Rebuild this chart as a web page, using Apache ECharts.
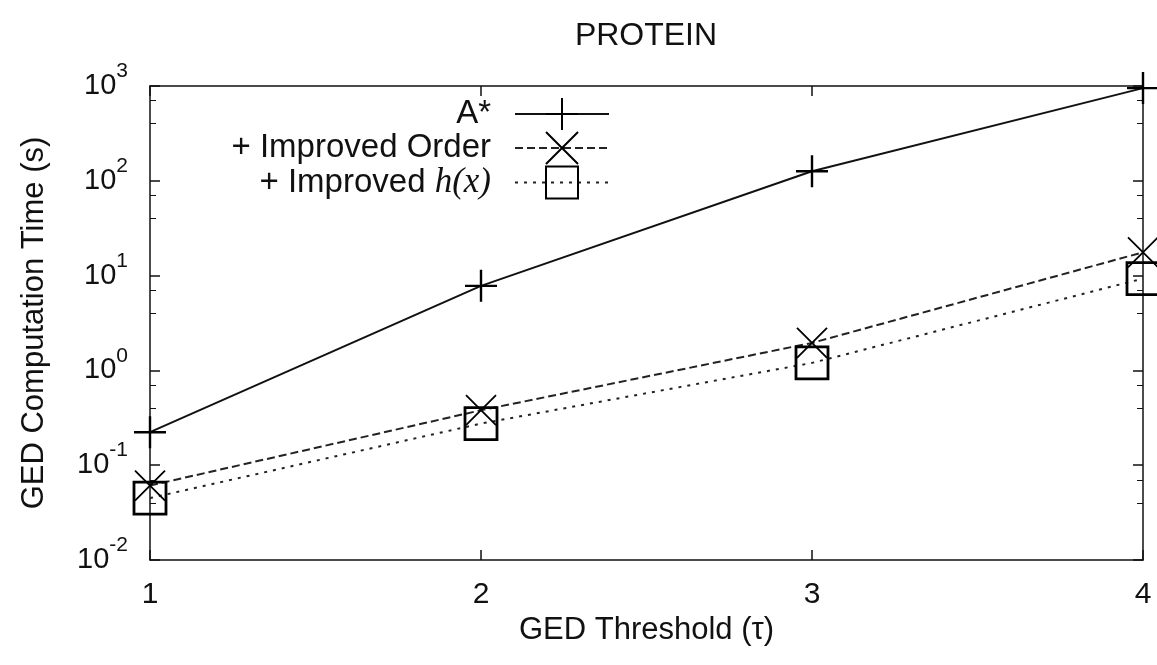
<!DOCTYPE html>
<html>
<head>
<meta charset="utf-8">
<script src="https://cdn.jsdelivr.net/npm/echarts@6/dist/echarts.min.js"></script>
<style>
html,body{margin:0;padding:0;background:#fff;}
#chart{width:1157px;height:665px;}
</style>
</head>
<body>
<div id="chart"></div>
<script>
const thresholds = [1, 2, 3, 4];
const astarTimes = [0.223, 7.8, 126, 950];
const improvedOrderTimes = [0.061, 0.38, 1.95, 17.6];
const improvedHxTimes = [0.045, 0.275, 1.2, 9.3];
const yTickExponents = [-2, -1, 0, 1, 2, 3];
const seriesNames = ['A*', '+ Improved Order', '+ Improved h(x)'];

const FONT = '"Liberation Sans", Arial, Helvetica, sans-serif';
const toPairs = (vals) => thresholds.map((t, i) => [t, vals[i]]);

const chart = echarts.init(document.getElementById('chart'), null, {renderer: 'canvas'});

const frameLine = {show: true, lineStyle: {color: '#111', width: 1.5}};
const plusPath = 'path://M-1,0L1,0M0,-1L0,1';
const crossPath = 'path://M-1,-1L1,1M-1,1L1,-1';

const option = {
  backgroundColor: '#fff',
  animation: false,
  title: {
    text: 'PROTEIN',
    left: 646,
    textAlign: 'center',
    top: 20,
    padding: 0,
    textStyle: {fontFamily: FONT, fontSize: 32, fontWeight: 'normal', color: '#111'}
  },
  grid: {left: 150, right: 14, top: 86, bottom: 105, containLabel: false},
  legend: {
    orient: 'vertical',
    align: 'right',
    right: 542,
    top: 92,
    itemWidth: 94,
    itemHeight: 40,
    itemGap: 0,
    selectedMode: false,
    data: seriesNames,
    textStyle: {fontFamily: FONT, fontSize: 33, color: '#111', padding: [0, 19, 0, 0],
      rich: {
        t: {fontFamily: FONT, fontSize: 33, color: '#111'},
        i: {fontFamily: '"Liberation Serif", "Times New Roman", serif', fontStyle: 'italic', fontSize: 35, color: '#111'}
      }
    },
    formatter: function (name) {
      if (name === '+ Improved h(x)') return '{t|+ Improved }{i|h(x)}';
      return name;
    }
  },
  xAxis: [
    {
      type: 'value', min: 1, max: 4, interval: 1, position: 'bottom',
      name: 'GED Threshold (\u03c4)', nameLocation: 'middle', nameGap: 50,
      nameTextStyle: {fontFamily: FONT, fontSize: 31, color: '#111'},
      axisLine: frameLine,
      axisTick: {show: true, inside: true, length: 10, lineStyle: {color: '#111', width: 1.5}},
      axisLabel: {fontFamily: FONT, fontSize: 30, color: '#111', margin: 20},
      splitLine: {show: false}
    },
    {
      type: 'value', min: 1, max: 4, interval: 1, position: 'top',
      axisLine: frameLine,
      axisTick: {show: true, inside: true, length: 10, lineStyle: {color: '#111', width: 1.5}},
      axisLabel: {show: false},
      splitLine: {show: false}
    }
  ],
  yAxis: [
    {
      type: 'log', logBase: 10, min: 0.01, max: 1000, position: 'left',
      name: 'GED Computation Time (s)', nameLocation: 'middle', nameGap: 100,
      nameTextStyle: {fontFamily: FONT, fontSize: 31, color: '#111'},
      axisLine: frameLine,
      axisTick: {show: true, inside: true, length: 10, lineStyle: {color: '#111', width: 1.5}},
      minorTick: {show: true, splitNumber: 3, length: 6, lineStyle: {color: '#111', width: 1}},
      axisLabel: {
        margin: 22,
        formatter: function (v) {
          const e = Math.round(Math.log10(v));
          return '{b|10}{s|' + e + '}';
        },
        rich: {
          b: {fontFamily: FONT, fontSize: 29, color: '#111', lineHeight: 50},
          s: {fontFamily: FONT, fontSize: 21, color: '#111', verticalAlign: 'top', lineHeight: 22}
        }
      },
      splitLine: {show: false},
      minorSplitLine: {show: false}
    },
    {
      type: 'log', logBase: 10, min: 0.01, max: 1000, position: 'right',
      axisLine: frameLine,
      axisTick: {show: true, inside: true, length: 10, lineStyle: {color: '#111', width: 1.5}},
      minorTick: {show: true, splitNumber: 3, length: 6, lineStyle: {color: '#111', width: 1}},
      axisLabel: {show: false},
      splitLine: {show: false}
    }
  ],
  series: [
    {
      name: seriesNames[0], type: 'line', xAxisIndex: 0, yAxisIndex: 0,
      data: toPairs(astarTimes), clip: false,
      symbol: plusPath, symbolSize: 32,
      itemStyle: {color: '#000', borderColor: '#000', borderWidth: 2.4},
      lineStyle: {color: '#111', width: 2, type: 'solid'},
      emphasis: {disabled: true}
    },
    {
      name: seriesNames[1], type: 'line', xAxisIndex: 0, yAxisIndex: 0,
      data: toPairs(improvedOrderTimes), clip: false,
      symbol: crossPath, symbolSize: 30,
      itemStyle: {color: '#000', borderColor: '#000', borderWidth: 1.8},
      lineStyle: {color: '#222', width: 2, type: [8, 4]},
      emphasis: {disabled: true}
    },
    {
      name: seriesNames[2], type: 'line', xAxisIndex: 0, yAxisIndex: 0,
      data: toPairs(improvedHxTimes), clip: false,
      symbol: 'rect', symbolSize: 32,
      itemStyle: {color: 'rgba(0,0,0,0)', borderColor: '#000', borderWidth: 2.8},
      lineStyle: {color: '#222', width: 2, type: [3, 6]},
      emphasis: {disabled: true}
    }
  ]
};
chart.setOption(option);
</script>
</body>
</html>
